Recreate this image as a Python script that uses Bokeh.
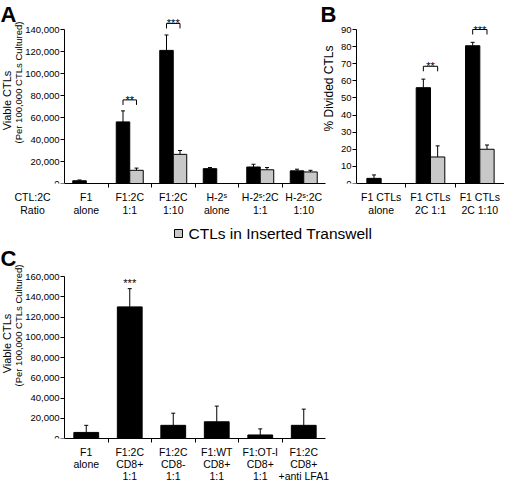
from bokeh.plotting import figure
from bokeh.models import (Range1d, FixedTicker, NumeralTickFormatter, Label, BoxAnnotation,
                          ColumnDataSource, Whisker, TeeHead)
from bokeh.core.properties import value
from bokeh.layouts import column, row
from bokeh.embed import file_html
from bokeh.resources import INLINE
import math

FONT = "Liberation Sans"
NAN = float("nan")
BLACK = "#000000"
GREY = "#c8c8c8"

# ---------------- data ----------------
a_categories = ["F1\nalone", "F1:2C\n1:1", "F1:2C\n1:10", "H-2ˢ\nalone", "H-2ˢ:2C\n1:1", "H-2ˢ:2C\n1:10"]
a_direct = [2500, 56000, 121000, 13500, 15000, 11500]
a_direct_err = [700, 10000, 14000, 1000, 2500, 1500]
a_transwell = [NAN, 12000, 26500, NAN, 12500, 10500]
a_transwell_err = [NAN, 2000, 3500, NAN, 2000, 1500]
a_yticks = [0, 20000, 40000, 60000, 80000, 100000, 120000, 140000]
a_sig_text = ["**", "***"]
a_sig_cat = [1, 2]
a_sig_y = [76000, 145500]

b_categories = ["F1 CTLs\nalone", "F1 CTLs\n2C 1:1", "F1 CTLs\n2C 1:10"]
b_direct = [3, 56, 80.5]
b_direct_err = [2, 5, 2]
b_transwell = [NAN, 15.5, 20]
b_transwell_err = [NAN, 6.5, 2.5]
b_yticks = [0, 10, 20, 30, 40, 50, 60, 70, 80, 90]
b_sig_text = ["**", "***"]
b_sig_cat = [1, 2]
b_sig_y = [68.5, 90]

c_categories = ["F1\nalone", "F1:2C\nCD8+\n1:1", "F1:2C\nCD8-\n1:1", "F1:WT\nCD8+\n1:1",
                "F1:OT-I\nCD8+\n1:1", "F1:2C\nCD8+\n+anti LFA1"]
c_values = [6000, 130000, 13000, 16500, 3500, 13000]
c_err = [7000, 18000, 12000, 15500, 6000, 16000]
c_yticks = [0, 20000, 40000, 60000, 80000, 100000, 120000, 140000, 160000]
c_sig_text = ["***"]
c_sig_cat = [1]
c_sig_y = [160000]

ratio_label = "CTL:2C\nRatio"
legend_label = "CTLs in Inserted Transwell"
y_title = "Viable CTLs"
y_subtitle = "(Per 100,000 CTLs Cultured)"
b_title = "% Divided CTLs"

FONT_V = value(FONT)


class Panel:
    """A figure whose frame covers the canvas; y axis fixed at x=0 inside it.
    Geometry given in page pixels."""

    def __init__(self, cats, ytop_val, ytop_px, yzero_px, fig_left, fig_right, fig_top,
                 axis_px, cat_px, bottom_border, yticks, comma=True, line_height=1.15,
                 extra_ticks=None):
        self.cats = cats
        n = len(cats)
        self.ppu_x = cat_px
        self.zero_x = axis_px
        self.zero_y = yzero_px
        self.ppu_y = (yzero_px - ytop_px) / ytop_val
        fw = fig_right - fig_left
        fh = yzero_px - fig_top
        x0 = (fig_left - axis_px) / cat_px
        x1 = (fig_right - axis_px) / cat_px
        y1 = fh / self.ppu_y
        p = figure(frame_width=fw, frame_height=fh, x_range=Range1d(x0, x1),
                   y_range=Range1d(0, y1), output_backend="svg", toolbar_location=None,
                   min_border_left=0, min_border_right=0, min_border_top=0,
                   min_border_bottom=bottom_border)
        p.xgrid.visible = False
        p.ygrid.visible = False
        p.outline_line_color = None
        xa = p.xaxis[0]
        ticks = [i + 0.5 for i in range(n)]
        overrides = {i + 0.5: c for i, c in enumerate(cats)}
        if extra_ticks:
            for t, s in extra_ticks:
                ticks.append(t)
                overrides[t] = s
        xa.ticker = FixedTicker(ticks=ticks, minor_ticks=list(range(1, n)))
        xa.major_label_overrides = overrides
        xa.bounds = (0, n)
        xa.major_tick_in = 0
        xa.major_tick_out = 0
        xa.minor_tick_in = 0
        xa.minor_tick_out = 4
        xa.minor_tick_line_color = BLACK
        xa.axis_line_color = BLACK
        xa.major_label_standoff = 3
        xa.major_label_text_font = FONT
        xa.major_label_text_font_size = "10.5px"
        xa.major_label_text_color = BLACK
        xa.major_label_text_line_height = line_height
        ya = p.yaxis[0]
        ya.fixed_location = 0
        ya.ticker = FixedTicker(ticks=yticks)
        ya.bounds = (0, yticks[-1])
        if comma:
            ya.formatter = NumeralTickFormatter(format="0,0")
        ya.major_tick_in = 0
        ya.major_tick_out = 4
        ya.minor_tick_out = 0
        ya.minor_tick_in = 0
        ya.major_tick_line_color = BLACK
        ya.axis_line_color = BLACK
        ya.major_label_standoff = 1
        ya.major_label_text_font = FONT
        ya.major_label_text_font_size = "9.5px"
        ya.major_label_text_color = BLACK
        self.p = p

    def dx(self, px):
        return (px - self.zero_x) / self.ppu_x

    def dy(self, py):
        return (self.zero_y - py) / self.ppu_y

    def bars(self, xs, tops, errs, width, color):
        keep = [(x, t, e) for x, t, e in zip(xs, tops, errs) if not math.isnan(t)]
        src = ColumnDataSource(dict(x=[k[0] for k in keep], top=[k[1] for k in keep],
                                    upper=[k[1] + k[2] for k in keep]))
        self.p.vbar(x="x", top="top", bottom=0, width=width, source=src,
                    fill_color=color, line_color=BLACK, line_width=1)
        self.p.add_layout(Whisker(source=src, base="x", lower="top", upper="upper",
                                  dimension="height", line_color=BLACK, line_width=1,
                                  upper_head=TeeHead(size=4, line_color=BLACK, line_width=1),
                                  lower_head=None))

    def sig(self, texts, cats, ys, off, drop_px):
        drop = drop_px / self.ppu_y
        if off > 0:
            xs0 = [c + 0.5 - off for c in cats]
            xs1 = [c + 0.5 + off for c in cats]
            self.p.multi_line(xs=[[a, a, b, b] for a, b in zip(xs0, xs1)],
                              ys=[[y - drop, y, y, y - drop] for y in ys],
                              line_color=BLACK, line_width=1)
        self.p.text(x=[c + 0.5 for c in cats], y=ys, text=texts, text_align="center",
                    text_baseline="alphabetic", y_offset=0 if off > 0 else 6,
                    text_font=FONT_V, text_font_size="11px", text_color=BLACK)

    def label(self, text, px, py, size, bold=False, angle=0.0, align="center",
              baseline="middle"):
        self.p.add_layout(Label(x=self.dx(px), y=self.dy(py), text=text,
                                text_font=FONT, text_font_size=f"{size}px",
                                text_font_style="bold" if bold else "normal",
                                angle=angle, text_align=align, text_baseline=baseline,
                                text_color=BLACK))

    def key(self, left, top, right, bottom, color):
        self.p.add_layout(BoxAnnotation(left=self.dx(left), right=self.dx(right),
                                        top=self.dy(top), bottom=self.dy(bottom),
                                        fill_color=color, fill_alpha=1,
                                        line_color=BLACK, line_width=1, line_alpha=1))


# ---------------- panel A ----------------
nA = len(a_categories)
wA = 0.31
A = Panel(a_categories, 140000, 37, 191, 8, 335, 8, 72, 43.5, 30, a_yticks,
          extra_ticks=[((40 - 72) / 43.5, ratio_label)])
A.bars([i + 0.5 - wA / 2 for i in range(nA)], a_direct, a_direct_err, wA, BLACK)
A.bars([i + 0.5 + wA / 2 for i in range(nA)], a_transwell, a_transwell_err, wA, GREY)
A.sig(a_sig_text, a_sig_cat, a_sig_y, wA / 2, 5)
A.label("A", 8, 9, 22, bold=True, align="left", baseline="top")
A.label(y_title, 14.8, 108, 11, angle=math.pi / 2)
A.label(y_subtitle, 26, 90, 9.5, angle=math.pi / 2)

# ---------------- panel B ----------------
nB = len(b_categories)
wB = 0.29
B = Panel(b_categories, 90, 37, 191, 308, 512, 8, 364, 148 / 3, 30, b_yticks, comma=False)
B.p.border_fill_color = None
B.p.background_fill_color = None
B.p.margin = (0, 0, 0, -27)
B.bars([i + 0.5 - wB / 2 for i in range(nB)], b_direct, b_direct_err, wB, BLACK)
B.bars([i + 0.5 + wB / 2 for i in range(nB)], b_transwell, b_transwell_err, wB, GREY)
B.sig(b_sig_text, b_sig_cat, b_sig_y, wB / 2, 5)
B.label("B", 328, 9, 22, bold=True, align="left", baseline="top")
B.label(b_title, 336, 96, 12, angle=math.pi / 2)

# ---------------- panel C (with legend strip on top) ----------------
nC = len(c_categories)
wC = 0.57
C = Panel(c_categories, 160000, 278, 440, 8, 512, 221, 72, 43.5, 33, c_yticks,
          line_height=1.0)
C.bars([i + 0.5 for i in range(nC)], c_values, c_err, wC, BLACK)
C.sig(c_sig_text, c_sig_cat, c_sig_y, 0, 0)
C.label("C", 8, 247, 22, bold=True, align="left", baseline="top")
C.label(y_title, 14.8, 345, 11, angle=math.pi / 2)
C.label(y_subtitle, 26, 327, 9.5, angle=math.pi / 2)
# legend entry for the grey series
C.key(182, 231, 190, 239, GREY)
C.label(legend_label, 196, 235, 15.5, align="left")

layout = column(row(A.p, B.p), C.p)
open("out.html", "w").write(file_html(layout, INLINE))
